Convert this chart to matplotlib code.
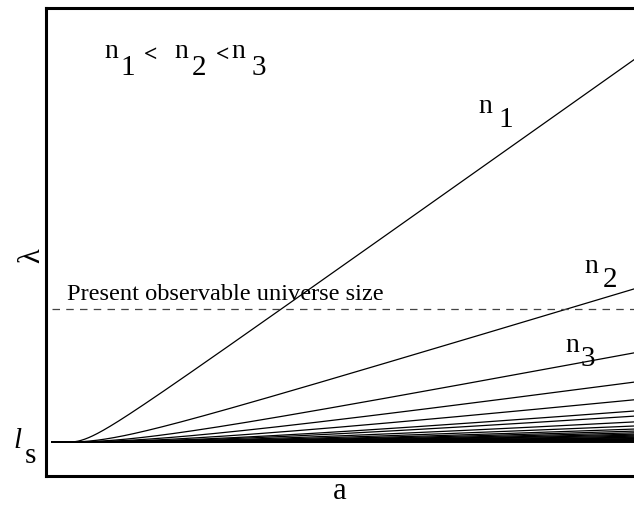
import numpy as np
import matplotlib
matplotlib.use("Agg")
import matplotlib.pyplot as plt

# ---- data ----
# wavelength at a = 1 (in units of l_s) for each mode, n1 < n2 < n3 < ...
end_lambda = [12.24, 5.50, 3.62, 2.76, 2.24, 1.91, 1.76, 1.59, 1.47, 1.38,
              1.32, 1.27, 1.23, 1.20, 1.17, 1.14, 1.12, 1.10, 1.08, 1.06,
              1.05, 1.04, 1.03]
l_s = 1.0                 # string length (baseline)
a_start = 0.01            # where curves begin
a_cross = 0.041           # where modes leave the l_s plateau
bend = 0.52               # curvature scale of the transition
universe_size = 4.91      # present observable universe size

SERIF = ["Liberation Serif", "DejaVu Serif"]

fig = plt.figure(figsize=(6.34, 5.09), dpi=100)
W, H = 634, 509
ax_l, ax_b, ax_t = 46, 476, 8
ax_w = W - ax_l + 12
ax = fig.add_axes([ax_l / W, (H - ax_b) / H, ax_w / W, (ax_b - ax_t) / H])
ax.set_xlim(0, 1.0 * ax_w / (W - ax_l))
ax.set_ylim(0, 13.76)

a = np.linspace(a_start, 1.0, 600)
for lam in end_lambda:
    Hh = lam - l_s
    m = np.sqrt((Hh + bend) ** 2 - bend ** 2) / (1 - a_cross)
    t = np.clip(a - a_cross, 0, None)
    y = l_s + np.sqrt(bend ** 2 + (m * t) ** 2) - bend
    ax.plot(a, y, color="black", lw=0.9)

ax.plot([a_start, 1.0], [l_s, l_s], color="black", lw=1.4)
ax.plot([a_start, 1.0], [universe_size, universe_size], color="#444444", lw=0.9, dashes=(6, 5))

for s in ["top", "left", "bottom"]:
    ax.spines[s].set_linewidth(2.2)
ax.spines["right"].set_visible(False)
ax.set_xticks([])
ax.set_yticks([])

def put(px, py, s, size, **kw):
    fig.text(px / W, 1 - py / H, s, fontsize=size, family=SERIF,
             va="baseline", ha="left", **kw)

# top-left relation n1 < n2 < n3
put(104, 58, "n", 20)
put(120, 75, "1", 21)
put(144, 61, "<", 17, fontweight="bold")
put(174, 58, "n", 20)
put(192, 75, "2", 21)
put(216, 61, "<", 17, fontweight="bold")
put(231, 58, "n", 20)
put(252, 75, "3", 21)

# mode labels
put(478, 113, "n", 20)
put(498, 127, "1", 21)
put(584, 273, "n", 20)
put(603, 287, "2", 21)
put(565, 352, "n", 20)
put(581, 366, "3", 21)

put(67, 300, "Present observable universe size", 17.6)

# axis labels
put(333, 499, "a", 22)
fig.text(32 / W, 1 - 256 / H, "λ", fontsize=22, family=SERIF, ha="center", va="center", rotation=90)
put(13, 448, "l", 21, style="italic")
put(25, 463, "s", 21)

fig.savefig("out.png", dpi=100)
